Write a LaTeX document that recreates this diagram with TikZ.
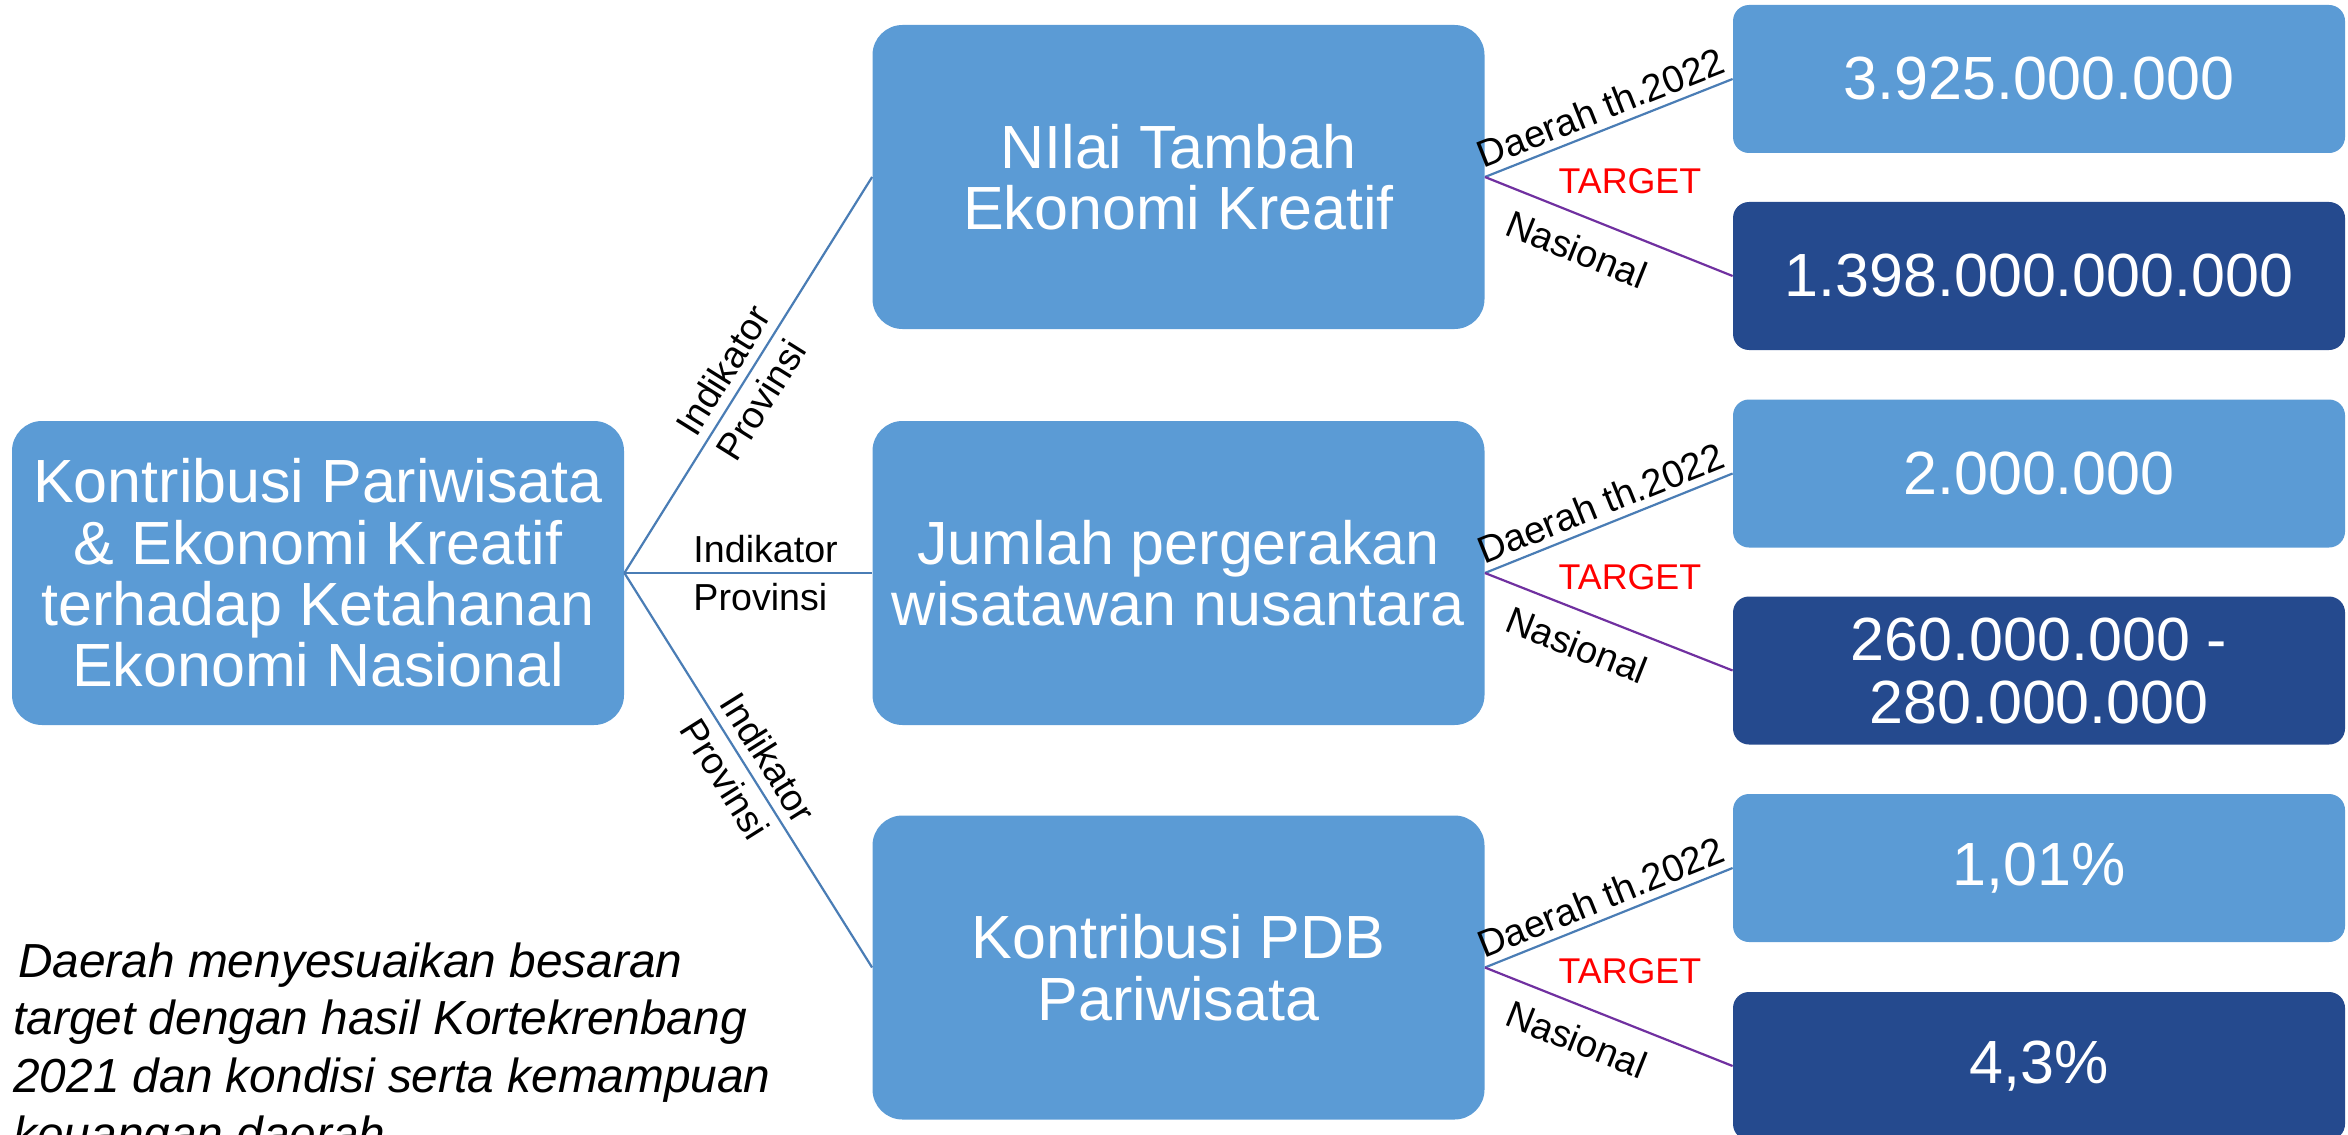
\documentclass[tikz,border=0pt]{standalone}
\usepackage{fontspec}
\setmainfont{Liberation Sans}
\definecolor{lb}{HTML}{5B9BD5}
\definecolor{db}{HTML}{254A8E}
\definecolor{ln}{HTML}{4A7DB5}
\definecolor{pu}{HTML}{7030A0}
\begin{document}
\begin{tikzpicture}[x=0.5pt,y=-0.5pt,
  bigbox/.style={fill=lb, draw=none, rounded corners=15pt, text=white, align=center,
    font=\fontsize{30.5}{30.7}\selectfont, inner sep=0pt, minimum width=306pt, minimum height=152pt},
  valbox/.style={fill=lb, draw=none, rounded corners=8pt, text=white, align=center,
    font=\fontsize{30.5}{31.5}\selectfont, inner sep=0pt, minimum width=306pt, minimum height=74pt},
  darkbox/.style={valbox, fill=db},
  bl/.style={draw=ln, line width=1.1pt},
  pl/.style={draw=pu, line width=1.1pt},
  ind/.style={font=\fontsize{18.8}{24}\selectfont, align=left, inner sep=0pt, text=black},
  dlab/.style={font=\fontsize{19}{22}\selectfont, inner sep=3.5pt, text=black},
  nlab/.style={font=\fontsize{19}{22}\selectfont, inner sep=5pt, text=black},
  tgt/.style={font=\fontsize{17.9}{22}\selectfont, text=red, inner sep=0pt},
  note/.style={font=\fontsize{23.9}{28.85}\selectfont\itshape, align=left, inner sep=0pt, text=black}
]
\useasboundingbox (0,0) rectangle (2348,1134);
\clip (0,0) rectangle (2348,1134);

\node[bigbox] (L) at (318,573) {Kontribusi Pariwisata\\\& Ekonomi Kreatif\\terhadap Ketahanan\\Ekonomi Nasional};

\node[bigbox] (M1) at (1178.5,177) {NIlai Tambah\\Ekonomi Kreatif};
\node[bigbox] (M2) at (1178.5,573) {Jumlah pergerakan\\wisatawan nusantara};
\node[bigbox] (M3) at (1178.5,967.5) {Kontribusi PDB\\Pariwisata};

\node[valbox] (A1) at (2039,79) {3.925.000.000};
\node[darkbox] (B1) at (2039,276) {1.398.000.000.000};
\node[valbox] (A2) at (2039,473.5) {2.000.000};
\node[darkbox] (B2) at (2039,670.5) {260.000.000 -\\280.000.000};
\node[valbox] (A3) at (2039,868) {1,01\%};
\node[darkbox] (B3) at (2039,1066) {4,3\%};

\draw[bl] (L.east) -- node[ind, sloped, pos=0.48] {Indikator\\Provinsi} (M1.west);
\draw[bl] (L.east) -- node[ind, pos=0.57] {Indikator\\Provinsi} (M2.west);
\draw[bl] (L.east) -- node[ind, sloped, pos=0.5] {Indikator\\Provinsi} (M3.west);

\draw[bl] (M1.east) -- node[dlab, sloped, above, pos=0.5] {Daerah th.2022} (A1.west);
\draw[pl] (M1.east) -- node[nlab, sloped, below=4pt, pos=0.42] {Nasional} (B1.west);
\node[tgt] (T1) at ([xshift=72.5pt,yshift=-2pt]M1.east) {TARGET};

\draw[bl] (M2.east) -- node[dlab, sloped, above, pos=0.5] {Daerah th.2022} (A2.west);
\draw[pl] (M2.east) -- node[nlab, sloped, below=4pt, pos=0.42] {Nasional} (B2.west);
\node[tgt] (T2) at ([xshift=72.5pt,yshift=-2pt]M2.east) {TARGET};

\draw[bl] (M3.east) -- node[dlab, sloped, above, pos=0.5] {Daerah th.2022} (A3.west);
\draw[pl] (M3.east) -- node[nlab, sloped, below=4pt, pos=0.42] {Nasional} (B3.west);
\node[tgt] (T3) at ([xshift=72.5pt,yshift=-2pt]M3.east) {TARGET};

\node[note, anchor=north west] (N) at (13,942) {\hspace{0.1em}Daerah menyesuaikan besaran\\target dengan hasil Kortekrenbang\\2021 dan kondisi serta kemampuan\\keuangan daerah};
\end{tikzpicture}
\end{document}
